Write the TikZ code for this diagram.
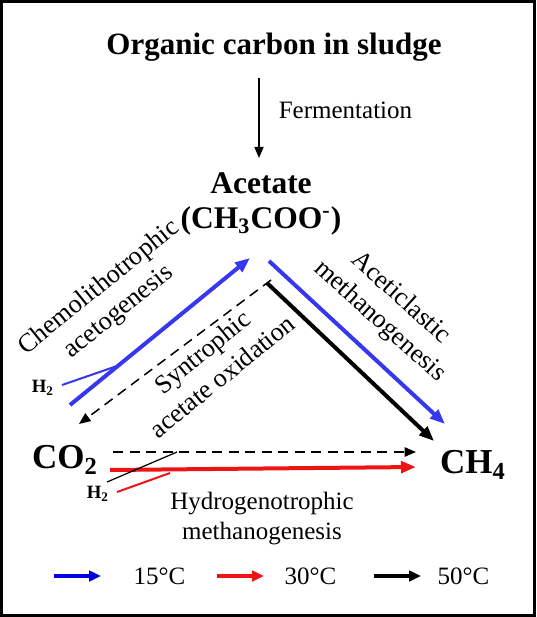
\documentclass[tikz,border=0pt]{standalone}
\usepackage{fontspec}
\setmainfont{Liberation Serif}
\usetikzlibrary{arrows.meta}
\definecolor{cold}{RGB}{55,55,240}
\definecolor{coldkey}{RGB}{0,0,225}
\definecolor{warm}{RGB}{238,20,20}
\definecolor{ink}{RGB}{0,0,0}
\tikzset{
  >={Triangle[length=6pt,width=4.6pt]},
  flux/.style={line width=1.6pt,draw=#1,->,>={Triangle[length=6pt,width=4.6pt]},color=#1},
  flux/.default=ink,
  trace/.style={line width=0.6pt,dashed,dash pattern=on 4pt off 2.6pt,->,>={Triangle[length=4.6pt,width=3.8pt]}},
  feed/.style={line width=0.5pt,draw=#1},
  feed/.default=ink,
  species/.style={font=\fontsize{14}{16}\selectfont\bfseries},
  tag/.style={font=\fontsize{10}{12}\selectfont,align=center},
  slant/.style={font=\fontsize{10.5}{12.5}\selectfont,align=center,rotate=#1},
  gas/.style={font=\fontsize{7.5}{9}\selectfont\bfseries},
}
\begin{document}
\begin{tikzpicture}[x=0.4pt,y=-0.4pt]
  \useasboundingbox (0,0) rectangle (536,617);
  \draw[line width=1.2pt] (1.5,1.5) rectangle (534.5,615.5);
  % substrates and products
  \node[font=\fontsize{12.4}{14}\selectfont\bfseries] (sludge) at (274,47) {Organic carbon in sludge};
  \node[font=\fontsize{12.6}{14}\selectfont\bfseries,align=center] (acetate) at (261,204) {Acetate\\(CH\textsubscript{3}COO\textsuperscript{-})};
  \node[species] (co2) at (65,460) {CO\textsubscript{2}};
  \node[species] (ch4) at (473,465) {CH\textsubscript{4}};
  % fermentation
  \coordinate (fa) at (259,78);
  \coordinate (fb) at (259,158);
  \draw[line width=0.6pt,->,>={Triangle[length=4.4pt,width=3.6pt]}] (fa) -- (fb);
  \node[tag,anchor=west] (ferm) at (270,110) {Fermentation};
  % acetogenesis and acetate oxidation
  \coordinate (ag1) at (70,405);
  \coordinate (ag2) at (250,258);
  \coordinate (so1) at (271,280);
  \coordinate (so2) at (79,424);
  \draw[flux=cold] (ag1) -- (ag2);
  \draw[trace] (so1) -- (so2);
  \coordinate (h2a) at (62,385);
  \coordinate (h2b) at (117,366);
  \draw[feed=cold,line width=0.8pt] (h2a) -- (h2b);
  \node[gas] (h2left) at (43,388) {H\textsubscript{2}};
  \node[slant=39] (chemo) at (109,300) {Chemolithotrophic\\acetogenesis};
  \node[slant=39] (synt) at (212,364) {Syntrophic\\acetate oxidation};
  % aceticlastic methanogenesis
  \coordinate (am1) at (269,261);
  \coordinate (am2) at (445,424);
  \coordinate (an1) at (267,283);
  \coordinate (an2) at (434,441);
  \draw[flux=cold] (am1) -- (am2);
  \draw[flux] (an1) -- (an2);
  \node[slant=-42] (acet) at (390,310) {Aceticlastic\\methanogenesis};
  % hydrogenotrophic methanogenesis
  \coordinate (hm1) at (113,452);
  \coordinate (hm2) at (416,452);
  \coordinate (hr1) at (110,470);
  \coordinate (hr2) at (416,467);
  \draw[trace] (hm1) -- (hm2);
  \draw[flux=warm] (hr1) -- (hr2);
  \coordinate (h2c) at (107,482);
  \coordinate (h2d) at (177,452);
  \coordinate (h2e) at (117,492);
  \coordinate (h2f) at (170,473);
  \draw[feed] (h2c) -- (h2d);
  \draw[feed=warm,line width=0.8pt] (h2e) -- (h2f);
  \node[gas] (h2low) at (98,494) {H\textsubscript{2}};
  \node[tag] (hydro) at (262,519) {Hydrogenotrophic\\methanogenesis};
  % legend
  \foreach \c/\x/\tx/\t [count=\i] in {coldkey/54/133/15,warm/217/284/30,ink/374/437/50}{
    \coordinate (k\i a) at (\x,576);
    \coordinate (k\i b) at (\x+47,576);
    \draw[line width=1.6pt,color=\c,-{Triangle[length=4.8pt,width=4.2pt]}] (k\i a) -- (k\i b);
    \node[tag,anchor=west,inner sep=0pt] (key\i) at (\tx,576) {\t°C};
  }
\end{tikzpicture}
\end{document}
